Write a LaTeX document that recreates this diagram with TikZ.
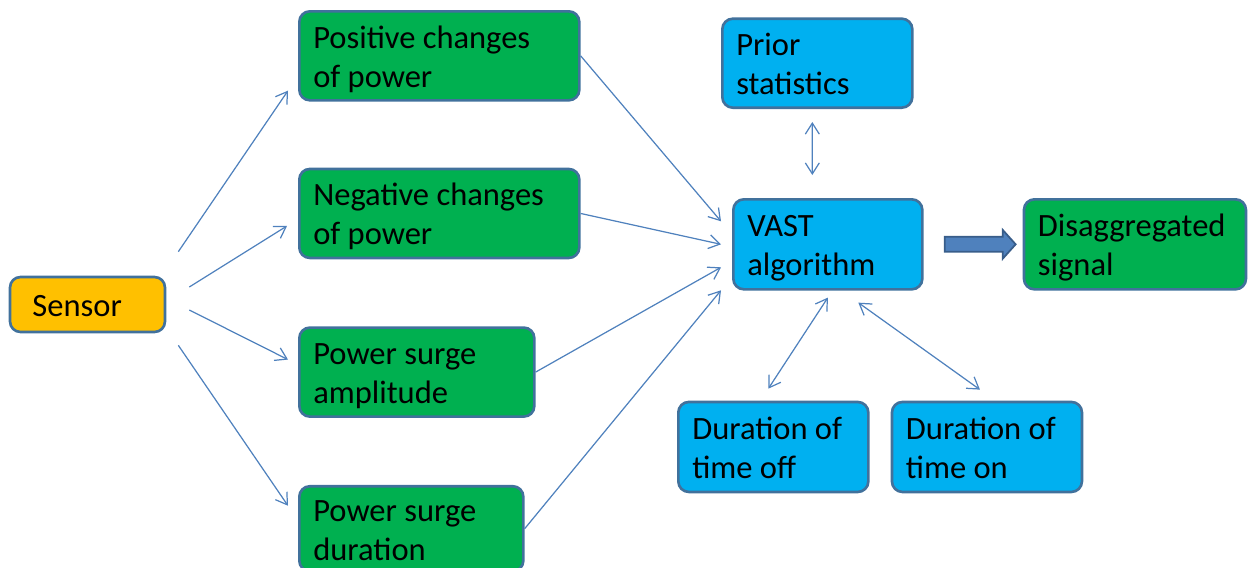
\documentclass[tikz,border=0pt]{standalone}
\usepackage{fontspec}
\setmainfont{Carlito}
\usetikzlibrary{arrows.meta,positioning}
\definecolor{boxEdge}{HTML}{41719C}
\definecolor{boxGreen}{HTML}{00B050}
\definecolor{boxCyan}{HTML}{00B0F0}
\definecolor{boxOrange}{HTML}{FFC000}
\definecolor{lineBlue}{HTML}{4F81BD}
\definecolor{blockEdge}{HTML}{385D8A}
\newcommand{\boxstrut}{\rule[-3pt]{0pt}{19.5pt}}

\begin{document}
\begin{tikzpicture}[every node/.style={font=\fontsize{18.5}{22.2}\selectfont}]
      \tikzstyle{bx}=[draw=boxEdge,line width=1.5pt,rounded corners=6pt,
                      inner xsep=0.28cm,inner ysep=0pt,align=flush left,
                      execute at begin node=\boxstrut,execute at end node=\boxstrut]
      \tikzstyle{gr}=[bx,fill=boxGreen,minimum height=1.78cm]
      \tikzstyle{cy}=[bx,fill=boxCyan,minimum height=1.8cm,text width=3.24cm]
      \tikzstyle{ar}=[lineBlue,line width=0.7pt,-{Straight Barb[length=2.2mm,width=2.8mm]}]
      \tikzstyle{dar}=[lineBlue,line width=0.7pt,
                       {Straight Barb[length=2.2mm,width=2.8mm]}-{Straight Barb[length=2.2mm,width=2.8mm]}]
      \useasboundingbox (0,0) rectangle (25,-11.34);
      \node[bx,fill=boxOrange,text width=2.2cm,inner xsep=0.45cm,minimum height=1.1cm]
            (sensor) at (1.75,-6.09) {Sensor};
      \node[gr,text width=5.04cm,anchor=north west] (pos) at (5.96,-0.2) {Positive changes\\of power};
      \node[gr,text width=5.04cm,below=1.32cm of pos] (neg) {Negative changes\\of power};
      \node[gr,text width=4.14cm,below=1.34cm of neg.south west,anchor=north west]
            (amp) {Power surge\\amplitude};
      \node[gr,text width=3.92cm,minimum height=1.7cm,below=1.34cm of amp.south west,anchor=north west]
            (dur) {Power surge\\duration};
      \node[cy,text width=3.22cm,anchor=north west] (vast) at (14.64,-3.96) {VAST\\algorithm};
      \node[cy,minimum height=1.78cm,above=1.78cm of vast.north west,anchor=south west,xshift=-0.22cm]
            (prior) {Prior\\statistics};
      \node[gr,text width=3.88cm,minimum height=1.8cm,right=1.98cm of vast] (dis) {Disaggregated\\signal};
      \node[cy,below=2.2cm of vast.south west,anchor=north west,xshift=-1.1cm] (off) {Duration of\\time off};
      \node[cy,right=0.42cm of off] (on) {Duration of\\time on};
      % block arrow to the output
      \filldraw[fill=lineBlue,draw=blockEdge,line width=1pt]
            ([shift={(0.42,0.15)}]vast.east) -- ++(1.16,0) -- ++(0,0.14) -- ++(0.26,-0.29)
            -- ++(-0.26,-0.29) -- ++(0,0.14) -- ++(-1.16,0) -- cycle;
      % sensor outputs
      \draw[ar] ([shift={(0.24,0.48)}]sensor.north east) -- ([shift={(-0.2,0.22)}]pos.south west);
      \draw[ar] ([shift={(0.46,0.35)}]sensor.east) -- ([shift={(-0.22,-0.25)}]neg.west);
      \draw[ar] ([shift={(0.46,-0.11)}]sensor.east) -- ([shift={(-0.2,0.25)}]amp.west);
      \draw[ar] ([shift={(0.24,-0.24)}]sensor.south east) -- ([shift={(-0.2,0.46)}]dur.west);
      % features into VAST
      \draw[ar] (pos.east) -- ([shift={(-0.22,0.46)}]vast.west);
      \draw[ar] (neg.east) -- ([xshift=-0.22cm]vast.west);
      \draw[ar] (amp.east) -- ([shift={(-0.22,-0.46)}]vast.west);
      \draw[ar] (dur.east) -- ([shift={(-0.22,-0.92)}]vast.west);
      % statistics
      \draw[dar] ([shift={(-0.1,-0.26)}]prior.south) -- ([shift={(-0.31,0.46)}]vast.north);
      \draw[dar] ([yshift=-0.14cm]vast.south) -- ([shift={(-0.1,0.24)}]off.north);
      \draw[dar] ([shift={(0.61,-0.24)}]vast.south) -- ([shift={(-0.14,0.22)}]on.north);
    \end{tikzpicture}
\end{document}
